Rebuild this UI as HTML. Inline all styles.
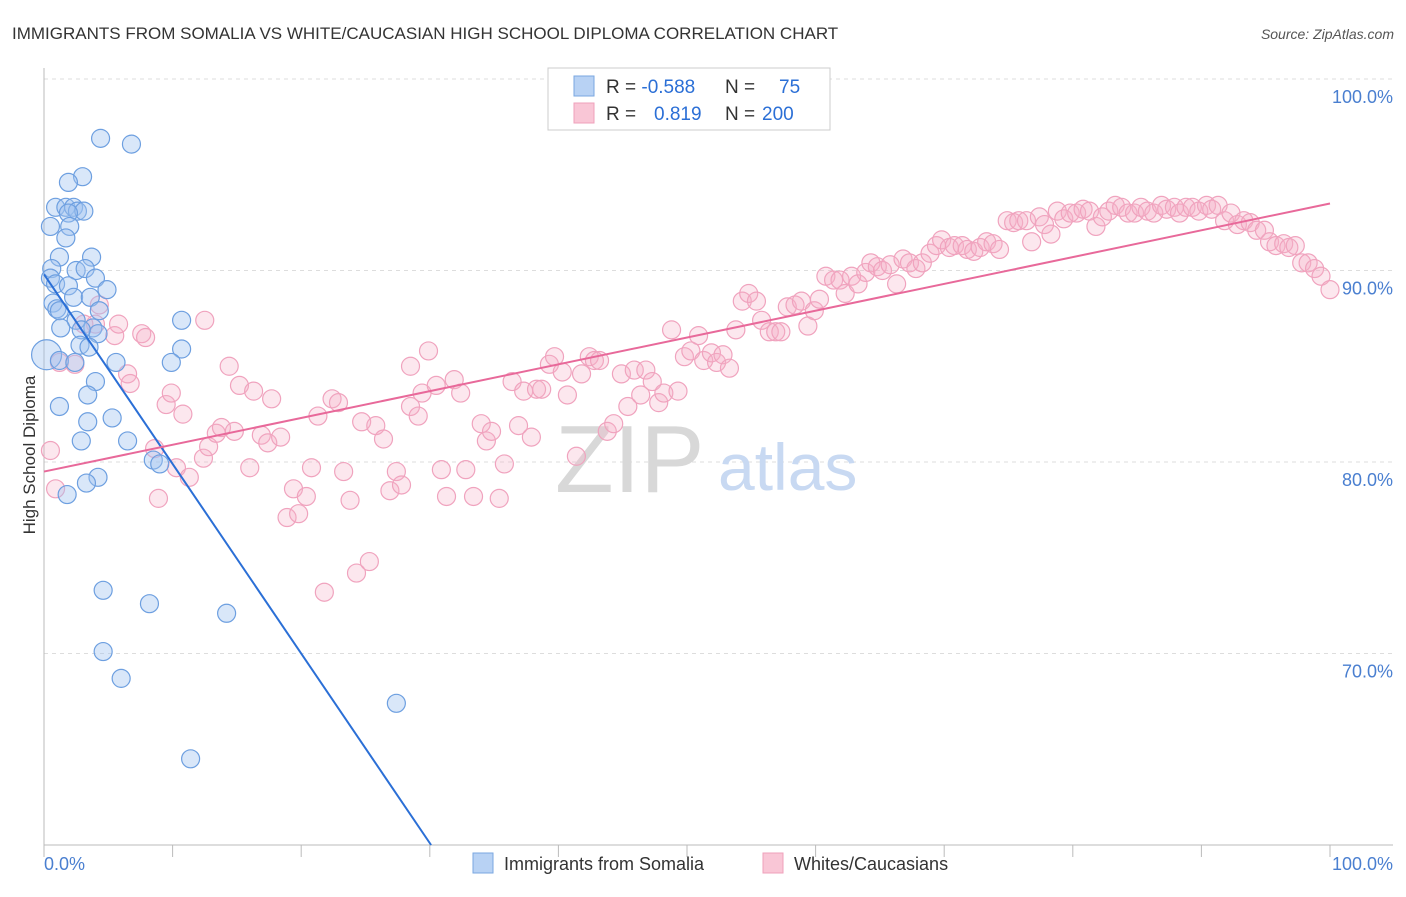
<!DOCTYPE html>
<html><head><meta charset="utf-8"><style>
body{margin:0;background:#fff;font-family:"Liberation Sans",sans-serif}
svg text{font-family:"Liberation Sans",sans-serif}
</style></head><body>
<svg width="1406" height="892" xmlns="http://www.w3.org/2000/svg">
<text x="12" y="39" font-size="17" fill="#333">IMMIGRANTS FROM SOMALIA VS WHITE/CAUCASIAN HIGH SCHOOL DIPLOMA CORRELATION CHART</text>
<text x="1394" y="39" font-size="14" fill="#555" font-style="italic" text-anchor="end">Source: ZipAtlas.com</text>
<g id="grid"></g>
<g id="axes"></g>
<text x="555" y="492" font-size="96" fill="#d8d8d8" font-family="Liberation Serif">ZIP</text>
<text x="718" y="490" font-size="66" fill="#c8d9f2">atlas</text>
<g id="pink"></g>
<g id="blue"></g>
<g id="lines"></g>
<text x="35" y="455" font-size="17" fill="#333" text-anchor="middle" transform="rotate(-90 35 455)">High School Diploma</text>
<g>
<rect x="548" y="68" width="282" height="62" fill="#fff" stroke="#ccc"/>
<rect x="574" y="76" width="20" height="20" fill="#b8d2f4" stroke="#7aa7e0"/>
<rect x="574" y="103" width="20" height="20" fill="#f9c6d6" stroke="#efa0bb"/>
<text x="606" y="93" font-size="19" fill="#333">R = <tspan fill="#2b6fd6">-0.588</tspan><tspan x="725">N = </tspan><tspan x="779" fill="#2b6fd6">75</tspan></text>
<text x="606" y="120" font-size="19" fill="#333">R = <tspan x="654" fill="#2b6fd6">0.819</tspan><tspan x="725">N = </tspan><tspan x="762" fill="#2b6fd6">200</tspan></text>
</g>
<g>
<rect x="473" y="853" width="20" height="20" fill="#b8d2f4" stroke="#7aa7e0"/>
<text x="504" y="870" font-size="18" fill="#333">Immigrants from Somalia</text>
<rect x="763" y="853" width="20" height="20" fill="#f9c6d6" stroke="#efa0bb"/>
<text x="794" y="870" font-size="18" fill="#333">Whites/Caucasians</text>
</g>
</svg>
<script>
const yTicks=[100,90,80,70];
const yTickLabels=["100.0%","90.0%","80.0%","70.0%"];
const xTickLabels=["0.0%","100.0%"];
const blueX=[4.4,6.8,3.0,1.9,0.9,1.7,2.3,2.6,3.1,1.9,0.5,2.0,1.7,1.2,3.7,0.6,2.5,3.2,0.5,4.0,0.9,1.9,4.9,2.3,3.6,0.7,1.0,1.2,4.3,2.5,1.3,3.8,4.2,2.9,10.7,2.8,3.5,10.7,0.2,1.2,2.4,5.6,9.9,4.0,3.4,1.2,5.3,3.4,2.9,6.5,8.5,9.0,4.2,3.3,1.8,4.6,8.2,14.2,4.6,6.0,27.4,11.4];
const blueY=[96.9,96.6,94.9,94.6,93.3,93.3,93.3,93.1,93.1,93.0,92.3,92.3,91.7,90.7,90.7,90.1,90.0,90.1,89.6,89.6,89.3,89.2,89.0,88.6,88.6,88.3,88.0,87.9,87.9,87.4,87.0,87.0,86.7,86.9,87.4,86.1,86.0,85.9,85.6,85.3,85.2,85.2,85.2,84.2,83.5,82.9,82.3,82.1,81.1,81.1,80.1,79.9,79.2,78.9,78.3,73.3,72.6,72.1,70.1,68.7,67.4,64.5];
const pinkX=[0.5,0.9,1.2,2.4,4.0,4.3,5.5,5.8,6.5,6.7,7.6,7.9,8.6,8.9,9.5,9.9,10.3,10.8,11.3,12.5,12.4,12.8,13.4,13.8,14.4,14.8,15.2,16.0,16.3,16.9,17.4,17.7,18.4,18.9,19.4,19.8,20.4,20.8,21.3,21.8,22.4,22.9,23.3,23.8,24.3,24.7,25.3,25.8,26.4,26.9,27.4,27.8,28.5,28.5,29.1,29.4,29.9,30.5,30.9,31.3,31.9,32.4,32.8,33.4,34.0,34.4,34.8,35.4,35.8,36.4,36.9,37.3,37.9,38.3,38.7,39.3,39.7,40.3,40.7,41.4,41.8,42.4,42.8,43.2,43.8,44.3,44.9,45.4,45.9,46.4,46.8,47.3,47.8,48.2,48.8,49.3,49.8,50.3,50.9,51.3,51.9,52.3,52.8,53.3,53.8,54.3,54.8,55.4,55.8,56.4,56.9,57.3,57.8,58.4,58.9,59.4,59.9,60.3,60.8,61.4,61.9,62.3,62.8,63.3,63.9,64.3,64.8,65.2,65.8,66.3,66.8,67.3,67.8,68.3,68.9,69.4,69.8,70.4,70.8,71.4,71.8,72.3,72.8,73.3,73.8,74.3,74.9,75.4,75.8,76.4,76.8,77.4,77.8,78.3,78.8,79.3,79.8,80.3,80.8,81.3,81.8,82.3,82.8,83.3,83.8,84.3,84.8,85.3,85.8,86.3,86.9,87.3,87.9,88.3,88.8,89.3,89.8,90.4,90.8,91.3,91.8,92.3,92.8,93.3,93.8,94.3,94.9,95.3,95.8,96.4,96.8,97.3,97.8,98.3,98.8,99.3,100.0,3.1];
const pinkY=[80.6,78.6,85.2,85.1,87.2,88.2,86.6,87.2,84.6,84.1,86.7,86.5,80.7,78.1,83.0,83.6,79.7,82.5,79.2,87.4,80.2,80.8,81.5,81.8,85.0,81.6,84.0,79.7,83.7,81.4,81.0,83.3,81.3,77.1,78.6,77.3,78.2,79.7,82.4,73.2,83.3,83.1,79.5,78.0,74.2,82.1,74.8,81.9,81.2,78.5,79.5,78.8,85.0,82.9,82.4,83.6,85.8,84.0,79.6,78.2,84.3,83.6,79.6,78.2,82.0,81.1,81.6,78.1,79.9,84.2,81.9,83.7,81.3,83.8,83.8,85.1,85.5,84.7,83.5,80.3,84.6,85.5,85.3,85.3,81.6,82.0,84.6,82.9,84.8,83.5,84.8,84.2,83.1,83.6,86.9,83.7,85.5,85.8,86.6,85.3,85.7,85.2,85.6,84.9,86.9,88.4,88.8,88.4,87.4,86.8,86.8,86.8,88.1,88.2,88.4,87.1,87.9,88.5,89.7,89.5,89.5,88.8,89.7,89.3,89.9,90.4,90.2,90.0,90.3,89.3,90.6,90.4,90.1,90.4,90.9,91.3,91.6,91.2,91.3,91.3,91.1,91.0,91.2,91.5,91.4,91.1,92.6,92.5,92.6,92.6,91.5,92.8,92.4,91.9,93.1,92.7,93.0,93.0,93.2,93.1,92.3,92.8,93.1,93.4,93.3,93.0,93.0,93.3,93.1,93.0,93.4,93.2,93.3,93.0,93.3,93.3,93.1,93.4,93.2,93.4,92.6,93.0,92.4,92.6,92.5,92.1,92.1,91.5,91.3,91.4,91.2,91.3,90.4,90.4,90.1,89.7,89.0,87.2];
const blueTrend=[0,89.8,30.1,60];
const pinkTrend=[0,79.5,100,93.5];
const X0=44,X1=1330,YB=845;
const sx=v=>X0+(X1-X0)*v/100;
const sy=v=>79+(100-v)*19.15;
const NS="http://www.w3.org/2000/svg";
function mk(parent,tag,attrs){const e=document.createElementNS(NS,tag);for(const k in attrs)e.setAttribute(k,attrs[k]);document.getElementById(parent).appendChild(e);return e;}
yTicks.forEach((t,i)=>{
 const l=mk('grid','line',{x1:X0,x2:1393,y1:sy(t),y2:sy(t),stroke:'#ddd','stroke-dasharray':'4,4'});
 
 
 const tx=mk('grid','text',{x:1393,y:sy(t)+24,'font-size':18,fill:'#4a7fd0','text-anchor':'end'});
 tx.textContent=yTickLabels[i];
 
 
});
const ax=mk('axes','line',{x1:X0,x2:1393,y1:YB,y2:YB,stroke:'#bbb'});


const ay=mk('axes','line',{x1:X0,x2:X0,y1:68,y2:YB,stroke:'#bbb'});


for(let i=0;i<=10;i++){
 const t=mk('axes','line',{x1:sx(i*10),x2:sx(i*10),y1:YB,y2:YB+12,stroke:'#bbb'});
 
 
}
[[0,'start',X0],[1,'end',1393]].forEach(([i,a,x])=>{
 const t=mk('axes','text',{x:x,y:870,'font-size':18,fill:'#4a7fd0','text-anchor':a});
 t.textContent=xTickLabels[i];
 
 
});
pinkX.forEach((v,i)=>{
 const c=mk('pink','circle',{cx:sx(v),cy:sy(pinkY[i]),r:9,fill:'rgba(246,176,200,0.3)',stroke:'#f0a3be','stroke-width':1.2});
 
 
});
blueX.forEach((v,i)=>{
 const c=mk('blue','circle',{cx:sx(v),cy:sy(blueY[i]),r:i===38?15:9,fill:'rgba(160,196,240,0.4)',stroke:'#6d9fe0','stroke-width':1.2});
 
 
});
const bl=mk('lines','line',{x1:sx(blueTrend[0]),y1:sy(blueTrend[1]),x2:sx(blueTrend[2]),y2:sy(blueTrend[3]),stroke:'#2b6fd6','stroke-width':2});


const pl=mk('lines','line',{x1:sx(pinkTrend[0]),y1:sy(pinkTrend[1]),x2:sx(pinkTrend[2]),y2:sy(pinkTrend[3]),stroke:'#e8699a','stroke-width':2});


</script>
</body></html>
